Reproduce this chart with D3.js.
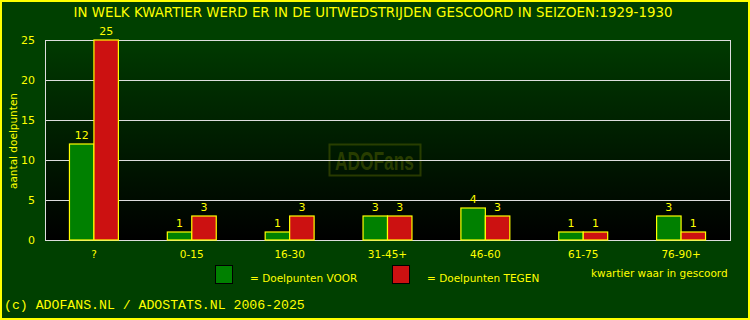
<!DOCTYPE html>
<html><head><meta charset="utf-8">
<script src="https://cdn.jsdelivr.net/npm/d3@7"></script>
<style>body{margin:0;background:#004000;}svg{display:block;}</style>
</head><body>
<script>
const categories = ["?", "0-15", "16-30", "31-45+", "46-60", "61-75", "76-90+"];
const voor = [12, 1, 1, 3, 4, 1, 3];
const tegen = [25, 3, 3, 3, 3, 1, 1];
const yTicks = [0, 5, 10, 15, 20, 25];
const title = "IN WELK KWARTIER WERD ER IN DE UITWEDSTRIJDEN GESCOORD IN SEIZOEN:1929-1930";

const W = 750, H = 320;
const plotLeft = 45, plotRight = 730, plotTop = 40, plotBottom = 240;
const yellow = "#ffff00";
const font = "DejaVu Sans";
const fs = 10.5;

const svg = d3.select("body").append("svg").attr("width", W).attr("height", H);
const defs = svg.append("defs");
const grad = defs.append("linearGradient").attr("id", "bg").attr("x1", 0).attr("y1", 0).attr("x2", 0).attr("y2", 1);
grad.append("stop").attr("offset", "0%").attr("stop-color", "#003a00");
grad.append("stop").attr("offset", "100%").attr("stop-color", "#000000");

svg.append("rect").attr("x", 0).attr("y", 0).attr("width", W).attr("height", H).attr("fill", "#004000");

const x = d3.scaleBand().domain(categories).range([plotLeft, plotRight]);
const y = d3.scaleLinear().domain([0, 25]).range([plotBottom, plotTop]);

// plot background
svg.append("rect").attr("x", plotLeft).attr("y", y(25))
  .attr("width", plotRight - plotLeft).attr("height", y(0) - y(25))
  .attr("fill", "url(#bg)");

// watermark
const wm = svg.append("g").attr("opacity", 0.45);
wm.append("rect").attr("x", 329.5).attr("y", 144.5).attr("width", 91).attr("height", 31)
  .attr("fill", "none").attr("stroke", "#5a6a00").attr("stroke-width", 2);
wm.append("text").attr("x", 335).attr("y", 169.5).attr("textLength", 79).attr("lengthAdjust", "spacingAndGlyphs")
  .attr("font-family", "Liberation Sans").attr("font-weight", "bold").attr("font-size", 25)
  .attr("fill", "#5a6a00").text("ADOFans");

// gridlines
svg.append("g").selectAll("line").data(yTicks.filter(d => d > 0)).join("line")
  .attr("x1", plotLeft).attr("x2", plotRight)
  .attr("y1", d => Math.round(y(d)) + 0.5).attr("y2", d => Math.round(y(d)) + 0.5)
  .attr("stroke", "#dddddd").attr("stroke-width", 1);

// plot border
svg.append("rect").attr("x", plotLeft + 0.5).attr("y", y(25) + 0.5)
  .attr("width", plotRight - plotLeft).attr("height", y(0) - y(25))
  .attr("fill", "none").attr("stroke", "#dddddd").attr("stroke-width", 1);

// y axis
const yAxis = d3.axisLeft(y).tickValues(yTicks).tickSize(0).tickPadding(10);
const ya = svg.append("g").attr("transform", `translate(${plotLeft},0)`).call(yAxis);
ya.select(".domain").remove();
ya.selectAll("text").attr("fill", yellow).attr("font-family", font).attr("font-size", 11);

// x axis
const xAxis = d3.axisBottom(x).tickSize(0).tickPadding(11);
const xa = svg.append("g").attr("transform", `translate(0,${plotBottom})`).call(xAxis);
xa.select(".domain").remove();
xa.selectAll("text").attr("fill", yellow).attr("font-family", font).attr("font-size", fs);

// bars
const bw = x.bandwidth() / 4;
const groups = svg.append("g").selectAll("g").data(categories).join("g");
groups.append("rect")
  .attr("x", d => x(d) + x.bandwidth() / 2 - bw)
  .attr("y", (d, i) => y(voor[i]))
  .attr("width", bw).attr("height", (d, i) => y(0) - y(voor[i]))
  .attr("fill", "#008000").attr("stroke", yellow).attr("stroke-width", 1.2);
groups.append("rect")
  .attr("x", d => x(d) + x.bandwidth() / 2)
  .attr("y", (d, i) => y(tegen[i]))
  .attr("width", bw).attr("height", (d, i) => y(0) - y(tegen[i]))
  .attr("fill", "#cc1111").attr("stroke", yellow).attr("stroke-width", 1.2);
groups.append("text")
  .attr("x", d => x(d) + x.bandwidth() / 2 - bw / 2)
  .attr("y", (d, i) => y(voor[i]) - 5)
  .attr("text-anchor", "middle").attr("fill", yellow).attr("font-family", font).attr("font-size", 11)
  .text((d, i) => voor[i]);
groups.append("text")
  .attr("x", d => x(d) + x.bandwidth() / 2 + bw / 2)
  .attr("y", (d, i) => y(tegen[i]) - 5)
  .attr("text-anchor", "middle").attr("fill", yellow).attr("font-family", font).attr("font-size", 11)
  .text((d, i) => tegen[i]);

// title
svg.append("text").attr("x", 373).attr("y", 16.5).attr("text-anchor", "middle")
  .attr("fill", yellow).attr("font-family", font).attr("font-size", 13.4).text(title);

// y axis title
svg.append("text").attr("transform", "translate(17,141) rotate(-90)").attr("text-anchor", "middle")
  .attr("fill", yellow).attr("font-family", font).attr("font-size", fs).text("aantal doelpunten");

// legend
svg.append("rect").attr("x", 215.5).attr("y", 265.5).attr("width", 17).attr("height", 18)
  .attr("fill", "#008000").attr("stroke", "#000").attr("stroke-width", 1);
svg.append("text").attr("x", 250).attr("y", 282).attr("fill", yellow).attr("font-family", font).attr("font-size", fs)
  .text("= Doelpunten VOOR");
svg.append("rect").attr("x", 392.5).attr("y", 265.5).attr("width", 17).attr("height", 18)
  .attr("fill", "#cc1111").attr("stroke", "#000").attr("stroke-width", 1);
svg.append("text").attr("x", 427).attr("y", 282).attr("fill", yellow).attr("font-family", font).attr("font-size", fs)
  .text("= Doelpunten TEGEN");
svg.append("text").attr("x", 591).attr("y", 277).attr("fill", yellow).attr("font-family", font).attr("font-size", fs)
  .text("kwartier waar in gescoord");

// footer
svg.append("text").attr("x", 4).attr("y", 309).attr("fill", yellow).attr("font-family", "Liberation Mono").attr("font-size", 13.2)
  .text("(c) ADOFANS.NL / ADOSTATS.NL 2006-2025");

// outer border
svg.append("rect").attr("x", 1).attr("y", 1).attr("width", W - 2).attr("height", H - 2)
  .attr("fill", "none").attr("stroke", yellow).attr("stroke-width", 2);
</script>
</body></html>
